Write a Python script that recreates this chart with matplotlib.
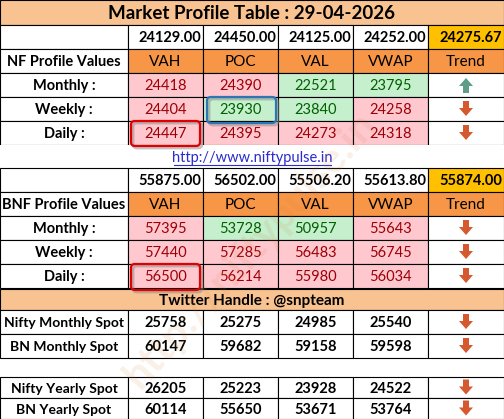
import matplotlib
matplotlib.use("Agg")
import matplotlib.pyplot as plt
from matplotlib.patches import Rectangle, FancyBboxPatch, Polygon

plt.rcParams['font.family'] = ['Lato', 'DejaVu Sans']

title = "Market Profile Table : 29-04-2026"
columns = ["VAH", "POC", "VAL", "VWAP", "Trend"]

nf_levels = ["24129.00", "24450.00", "24125.00", "24252.00", "24275.67"]
nf_rows = ["Monthly :", "Weekly :", "Daily :"]
nf_values = [[24418, 24390, 22521, 23795],
             [24404, 23930, 23840, 24258],
             [24447, 24395, 24273, 24318]]
nf_state = [["r", "r", "g", "g"],
            ["r", "g", "g", "r"],
            ["r", "r", "r", "r"]]
nf_trend = ["up", "down", "down"]

bnf_levels = ["55875.00", "56502.00", "55506.20", "55613.80", "55874.00"]
bnf_rows = ["Monthly :", "Weekly :", "Daily :"]
bnf_values = [[57395, 53728, 50957, 55643],
              [57440, 57285, 56483, 56745],
              [56500, 56214, 55980, 56034]]
bnf_state = [["r", "g", "g", "r"],
             ["r", "r", "r", "r"],
             ["r", "r", "r", "r"]]
bnf_trend = ["down", "down", "down"]

spot_monthly_rows = ["Nifty Monthly Spot", "BN Monthly Spot"]
spot_monthly = [[25758, 25275, 24985, 25540], [60147, 59682, 59158, 59598]]
spot_yearly_rows = ["Nifty Yearly Spot", "BN Yearly Spot"]
spot_yearly = [[26205, 25223, 23928, 24522], [60114, 55650, 53671, 53764]]
spot_trend = ["down", "down"]

link = "http://www.niftypulse.in"
twitter = "Twitter Handle : @snpteam"

W, H = 504, 419
xs = [0, 128, 203, 278, 353, 428, 504]

fig = plt.figure(figsize=(W / 100, H / 100), dpi=100)
ax = fig.add_axes([0, 0, 1, 1])
ax.set_xlim(0, W)
ax.set_ylim(H, 0)
ax.axis("off")

TITLE_BG = "#F8C391"
HEAD_BG = "#F79646"
GOLD = "#FFC000"
PINK, PINK_T = "#FFC7CE", "#9C0006"
GREEN, GREEN_T = "#C6EFCE", "#006100"
ARROW_DN, ARROW_UP = "#D5582E", "#5E9E88"


def cell(x0, x1, y0, y1, bg="white", text=None, color="black", size=10.5, bold=True):
    ax.add_patch(Rectangle((x0, y0), x1 - x0, y1 - y0, facecolor=bg,
                           edgecolor="black", lw=0.8))
    if text is not None:
        ax.text((x0 + x1) / 2, (y0 + y1) / 2 + 1, text, ha="center", va="center",
                fontsize=size, color=color, fontweight="bold" if bold else "normal")


def arrow(cx, cy, direction):
    s = 1 if direction == "down" else -1
    pts = [(cx - 3, cy - 8 * s), (cx + 3, cy - 8 * s), (cx + 3, cy - 1 * s),
           (cx + 7, cy - 1 * s), (cx, cy + 7 * s), (cx - 7, cy - 1 * s), (cx - 3, cy - 1 * s)]
    ax.add_patch(Polygon(pts, closed=True,
                         facecolor=ARROW_DN if direction == "down" else ARROW_UP,
                         edgecolor="none"))


def block(y0, levels, label, rows, values, states, trends):
    rh = 24
    cell(0, xs[1], y0, y0 + rh)
    for j, v in enumerate(levels):
        ax.add_patch(Rectangle((xs[j + 1], y0), xs[j + 2] - xs[j + 1], rh,
                               facecolor=GOLD if j == 4 else "white", edgecolor="black", lw=0.8))
        ax.text(xs[j + 2] - 2, y0 + rh / 2 + 1, v, ha="right", va="center",
                fontsize=10.5, fontweight="bold")
    y = y0 + rh
    cell(0, xs[1], y, y + rh, text=label, size=10.5)
    for j, c in enumerate(columns):
        cell(xs[j + 1], xs[j + 2], y, y + rh, bg=HEAD_BG, text=c, size=11, bold=False)
    for i, r in enumerate(rows):
        y = y0 + rh * (2 + i)
        cell(0, xs[1], y, y + rh, text=r, size=10.5)
        for j, v in enumerate(values[i]):
            red = states[i][j] == "r"
            cell(xs[j + 1], xs[j + 2], y, y + rh, bg=PINK if red else GREEN,
                 text=str(v), color=PINK_T if red else GREEN_T, size=10.5, bold=False)
        cell(xs[5], xs[6], y, y + rh)
        arrow((xs[5] + xs[6]) / 2, y + rh / 2, trends[i])


def highlight(x0, y0, x1, y1, color):
    ax.add_patch(FancyBboxPatch((x0 + 2, y0 + 2), x1 - x0, y1 - y0,
                                boxstyle="round,pad=0,rounding_size=4",
                                facecolor="none", edgecolor="#888888", lw=2, alpha=0.5))
    ax.add_patch(FancyBboxPatch((x0, y0), x1 - x0, y1 - y0,
                                boxstyle="round,pad=0,rounding_size=4",
                                facecolor="none", edgecolor=color, lw=1.6))


# title
cell(0, W, 0, 25, bg=TITLE_BG, text=title, size=13.5)
block(25, nf_levels, "NF Profile Values", nf_rows, nf_values, nf_state, nf_trend)
# link row
ax.add_patch(Rectangle((0, 145), W, 23, facecolor="white", edgecolor="none"))
ax.text(252, 158, link, ha="center", va="center", fontsize=10.5, color="#2B2BD0")
ax.plot([174, 331], [165, 165], color="#2B2BD0", lw=0.8)
block(168, bnf_levels, "BNF Profile Values", bnf_rows, bnf_values, bnf_state, bnf_trend)
cell(0, W, 289, 310, bg=TITLE_BG, text=twitter, size=11)
for i, r in enumerate(spot_monthly_rows):
    y = 310 + 24 * i
    cell(0, xs[1], y, y + 24, text=r, size=10)
    for j, v in enumerate(spot_monthly[i]):
        cell(xs[j + 1], xs[j + 2], y, y + 24, text=str(v), size=10.5)
    cell(xs[5], xs[6], y, y + 24)
    arrow((xs[5] + xs[6]) / 2, y + 12, spot_trend[i])
for i, r in enumerate(spot_yearly_rows):
    y = 377 + 21 * i
    cell(0, xs[1], y, y + 21, text=r, size=10)
    for j, v in enumerate(spot_yearly[i]):
        cell(xs[j + 1], xs[j + 2], y, y + 21, text=str(v), size=10.5)
    cell(xs[5], xs[6], y, y + 21)
    arrow((xs[5] + xs[6]) / 2, y + 10.5, spot_trend[i])

highlight(207, 97, 276, 123, "#2E75B6")
highlight(131, 121, 200, 146, "#E00000")
highlight(131, 264, 200, 290, "#E00000")

# watermark
ax.text(250, 250, "http://niftypulse.in", rotation=48, fontsize=30, color="#D08040",
        alpha=0.12, ha="center", va="center", fontweight="bold")

fig.savefig("out.png", dpi=100)
